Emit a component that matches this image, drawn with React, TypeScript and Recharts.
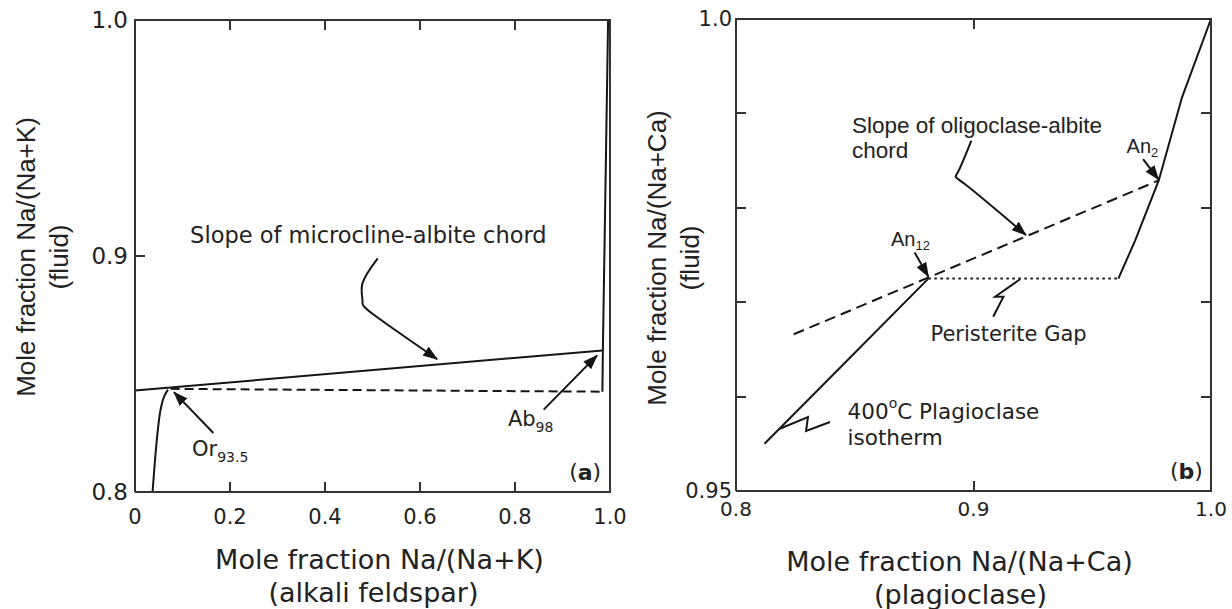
import React from 'react'
import { LineChart, Line, XAxis, YAxis, ReferenceDot, Label } from 'recharts'

// ---------- panel (a): alkali feldspar ----------
const aXDomain = [0, 1]
const aYDomain = [0.8, 1]
const aXTicks = [0, 0.2, 0.4, 0.6, 0.8, 1.0]
const aXLabels = ['0', '0.2', '0.4', '0.6', '0.8', '1.0']
const aXInner = [0.2, 0.4, 0.6, 0.8]
const aYTicks = [0.8, 0.9, 1.0]
const aYLabels = ['0.8', '0.9', '1.0']
const aYInner = [0.9]

const aXTitle = ['Mole fraction Na/(Na+K)', '(alkali feldspar)']
const aYTitle = ['Mole fraction Na/(Na+K)', '(fluid)']

const orthoclaseBranch = [
  { x: 0.037, y: 0.8 },
  { x: 0.0446, y: 0.8192 },
  { x: 0.053, y: 0.834 },
  { x: 0.0695, y: 0.8434 },
]
const albiteBranch = [
  { x: 0.984, y: 0.8425 },
  { x: 0.985, y: 0.86 },
  { x: 0.996, y: 1.0 },
]
const microclineChord = [
  { x: 0, y: 0.843 },
  { x: 0.984, y: 0.86 },
]
const alkaliTie = [
  { x: 0.075, y: 0.8437 },
  { x: 0.984, y: 0.8425 },
]

const aChordArrow = [
  { x: 0.511, y: 0.899 },
  { x: 0.479, y: 0.8885 },
  { x: 0.479, y: 0.881 },
  { x: 0.5, y: 0.8755 },
  { x: 0.636, y: 0.8563 },
]
const orArrow = [
  { x: 0.165, y: 0.825 },
  { x: 0.082, y: 0.8423 },
]
const abArrow = [
  { x: 0.8604, y: 0.8349 },
  { x: 0.9728, y: 0.8579 },
]

// note anchors [x, y]
const aChordNote = [0.116, 0.909]
const orNote = [0.12, 0.8184]
const abNote = [0.785, 0.8308]
const aPanelNote = [0.914, 0.8086]

// ---------- panel (b): plagioclase ----------
const bXDomain = [0.8, 1]
const bYDomain = [0.95, 1]
const bXTicks = [0.8, 0.9, 1.0]
const bXLabels = ['0.8', '0.9', '1.0']
const bXInner = [0.9]
const bYTicks = [0.95, 0.96, 0.97, 0.98, 0.99, 1.0]
const bYLabels = ['0.95', '', '', '', '', '1.0']
const bYInner = [0.96, 0.97, 0.98, 0.99]

const bXTitle = ['Mole fraction Na/(Na+Ca)', '(plagioclase)']
const bYTitle = ['Mole fraction Na/(Na+Ca)', '(fluid)']

const isothermLow = [
  { x: 0.812, y: 0.955 },
  { x: 0.8465, y: 0.96375 },
  { x: 0.881, y: 0.9725 },
]
const peristeriteGap = [
  { x: 0.881, y: 0.9725 },
  { x: 0.961, y: 0.9725 },
]
const isothermHigh = [
  { x: 0.961, y: 0.9725 },
  { x: 0.968, y: 0.9765 },
  { x: 0.978, y: 0.9829 },
  { x: 0.9878, y: 0.9917 },
  { x: 1.0, y: 1.0 },
]
const oligoclaseChord = [
  { x: 0.8243, y: 0.9666 },
  { x: 0.978, y: 0.9829 },
]

const bChordArrow = [
  { x: 0.8991, y: 0.98712 },
  { x: 0.8933, y: 0.98371 },
  { x: 0.8966, y: 0.98247 },
  { x: 0.9221, y: 0.97712 },
]
const an2Arrow = [
  { x: 0.9714, y: 0.98515 },
  { x: 0.9779, y: 0.983 },
]
const an12Arrow = [
  { x: 0.8752, y: 0.97527 },
  { x: 0.881, y: 0.97272 },
]
const gapZigzag = [
  { x: 0.9083, y: 0.96846 },
  { x: 0.9126, y: 0.97058 },
  { x: 0.9091, y: 0.97058 },
  { x: 0.9196, y: 0.97243 },
]
const isoZigzag = [
  { x: 0.8182, y: 0.95657 },
  { x: 0.8303, y: 0.95784 },
  { x: 0.8295, y: 0.95636 },
  { x: 0.8396, y: 0.95731 },
]

const bChordNote = [0.8488, 0.98867]
const bChordNote2 = [0.8488, 0.98602]
const an2Note = [0.96446, 0.98659]
const an12Note = [0.86526, 0.97669]
const gapNote = [0.88189, 0.96663]
const isoNote = [0.84699, 0.95847]
const isoNote2 = [0.84699, 0.95572]
const bPanelNote = [0.98274, 0.95212]

const FRAME = '#333'
const INK = '#151515'
const VERD = 'DejaVu Sans, Verdana, sans-serif'
const ARIAL = 'Liberation Sans, Arial, sans-serif'
const TICK = 10
const PLOT_W = 475
const PLOT_H = 472

const tickText = (labels: string[], dy: number, fs: number) => (p: any) => (
  <text x={p.x} y={p.y + dy} textAnchor="middle" dominantBaseline="central" fontSize={fs} fontFamily={VERD} fill="#222">
    {labels[p.index]}
  </text>
)

const leftText = (labels: string[], dx: number, fs: number) => (p: any) => (
  <text x={p.x - dx} y={p.y} textAnchor="end" dominantBaseline="central" fontSize={fs} fontFamily={VERD} fill="#222">
    {labels[p.index]}
  </text>
)

const xTitle = (lines: string[], shift: number[], dy: number[]) => (p: any) => {
  const vb = p.viewBox
  const cx = vb.x + vb.width / 2
  return (
    <g>
      {lines.map((t, i) => (
        <text key={i} x={cx + shift[i]} y={vb.y + dy[i]} textAnchor="middle" dominantBaseline="central" fontSize={27} fontFamily={VERD} fill="#222">
          {t}
        </text>
      ))}
    </g>
  )
}

const yTitle = (lines: string[], xs: number[], cy: number) => (p: any) => (
  <g>
    {lines.map((t, i) => (
      <text key={i} x={xs[i]} y={cy} transform={`rotate(-90, ${xs[i]}, ${cy})`} textAnchor="middle" dominantBaseline="central" fontSize={26} fontFamily={ARIAL} fill="#222">
        {t}
      </text>
    ))}
  </g>
)

const tickAX = tickText(aXLabels, 24.5, 21)
const tickAY = leftText(aYLabels, 7, 23)
const tickBX = tickText(bXLabels, 18, 20)
const tickBY = leftText(bYLabels, 4, 21)
const titleAX = xTitle(aXTitle, [7, 1], [67, 100])
const titleAY = yTitle(aYTitle, [26, 59], 257)
const titleBX = xTitle(bXTitle, [-14, -13], [70, 103])
const titleBY = yTitle(bYTitle, [41, 74], 258)

const note = (pos: number[], key: string, body: React.ReactNode, fs: number, family: string) => (
  <ReferenceDot
    key={key}
    x={pos[0]}
    y={pos[1]}
    r={0}
    ifOverflow="visible"
    shape={(p: any) => (
      <text x={p.cx} y={p.cy} dominantBaseline="central" fontSize={fs} fontFamily={family} fill="#222">
        {body}
      </text>
    )}
  />
)

const arrowDefs = (id: string) => (
  <defs>
    <marker id={id} markerUnits="userSpaceOnUse" markerWidth={15} markerHeight={11} refX={14} refY={5.5} orient="auto">
      <path d="M0,0 L15,5.5 L0,11 z" fill={INK} />
    </marker>
  </defs>
)

const curve = (data: any[], key: string, opts: any = {}) => (
  <Line
    key={key}
    data={data}
    dataKey="y"
    type={opts.type || 'linear'}
    stroke={INK}
    strokeWidth={2}
    strokeDasharray={opts.dash}
    markerEnd={opts.arrow ? `url(#${opts.arrow})` : undefined}
    dot={false}
    activeDot={false}
    legendType="none"
    isAnimationActive={false}
  />
)

// closing box edges and inward tick marks, laid over the plot rectangle
function Box({ left, top, xd, yd, xIn, yIn, rightTicks }: any) {
  const fx = (v: number) => ((v - xd[0]) / (xd[1] - xd[0])) * PLOT_W
  const fy = (v: number) => (1 - (v - yd[0]) / (yd[1] - yd[0])) * PLOT_H
  const bar = (k: string, l: number, t: number, w: number, h: number) => (
    <div key={k} style={{ position: 'absolute', left: l, top: t, width: w, height: h, background: FRAME }} />
  )
  return (
    <div style={{ position: 'absolute', left, top, width: PLOT_W, height: PLOT_H, pointerEvents: 'none' }}>
      {bar('top', -1, -1, PLOT_W + 2, 2)}
      {bar('right', PLOT_W - 1, -1, 2, PLOT_H + 2)}
      {xIn.map((v: number) => bar(`t${v}`, fx(v) - 1, 0, 2, TICK))}
      {xIn.map((v: number) => bar(`b${v}`, fx(v) - 1, PLOT_H - TICK, 2, TICK))}
      {yIn.map((v: number) => bar(`l${v}`, 0, fy(v) - 1, TICK, 2))}
      {rightTicks && yIn.map((v: number) => bar(`r${v}`, PLOT_W - TICK, fy(v) - 1, TICK, 2))}
    </div>
  )
}

function PanelA() {
  return (
    <LineChart width={650} height={609} margin={{ top: 20, right: 40, bottom: 0, left: 0 }}>
      {arrowDefs('headA')}
      <XAxis
        dataKey="x"
        type="number"
        domain={aXDomain}
        ticks={aXTicks}
        interval={0}
        height={117}
        tickSize={0}
        tickMargin={0}
        tickLine={false}
        axisLine={{ stroke: FRAME, strokeWidth: 2 }}
        tick={tickAX}
      >
        <Label content={titleAX} />
      </XAxis>
      <YAxis
        type="number"
        domain={aYDomain}
        ticks={aYTicks}
        interval={0}
        width={135}
        tickSize={0}
        tickMargin={0}
        tickLine={false}
        axisLine={{ stroke: FRAME, strokeWidth: 2 }}
        tick={tickAY}
      >
        <Label content={titleAY} />
      </YAxis>
      {curve(orthoclaseBranch, 'or', { type: 'monotone' })}
      {curve(albiteBranch, 'ab')}
      {curve(microclineChord, 'chord')}
      {curve(alkaliTie, 'tie', { dash: '9 5' })}
      {curve(aChordArrow, 'arr1', { type: 'natural', arrow: 'headA' })}
      {curve(orArrow, 'arr2', { arrow: 'headA' })}
      {curve(abArrow, 'arr3', { arrow: 'headA' })}
      {note(aChordNote, 'n1', 'Slope of microcline-albite chord', 22.5, VERD)}
      {note(orNote, 'n2', <>Or<tspan fontSize={14} dy={8}>93.5</tspan></>, 21, VERD)}
      {note(abNote, 'n3', <>Ab<tspan fontSize={14} dy={8}>98</tspan></>, 21, VERD)}
      {note(aPanelNote, 'n4', <>(<tspan fontWeight="bold">a</tspan>)</>, 22, VERD)}
    </LineChart>
  )
}

function PanelB() {
  return (
    <LineChart width={616} height={609} margin={{ top: 19, right: 21, bottom: 0, left: 0 }}>
      {arrowDefs('headB')}
      <XAxis
        dataKey="x"
        type="number"
        domain={bXDomain}
        ticks={bXTicks}
        interval={0}
        height={118}
        tickSize={0}
        tickMargin={0}
        tickLine={false}
        axisLine={{ stroke: FRAME, strokeWidth: 2 }}
        tick={tickBX}
      >
        <Label content={titleBX} />
      </XAxis>
      <YAxis
        type="number"
        domain={bYDomain}
        ticks={bYTicks}
        interval={0}
        width={120}
        tickSize={0}
        tickMargin={0}
        tickLine={false}
        axisLine={{ stroke: FRAME, strokeWidth: 2 }}
        tick={tickBY}
      >
        <Label content={titleBY} />
      </YAxis>
      {curve(isothermLow, 'low')}
      {curve(peristeriteGap, 'gap', { dash: '2.5 3.5' })}
      {curve(isothermHigh, 'high')}
      {curve(oligoclaseChord, 'chord', { dash: '11 6' })}
      {curve(bChordArrow, 'arr1', { type: 'natural', arrow: 'headB' })}
      {curve(an2Arrow, 'arr2', { arrow: 'headB' })}
      {curve(an12Arrow, 'arr3', { arrow: 'headB' })}
      {curve(gapZigzag, 'zig1')}
      {curve(isoZigzag, 'zig2')}
      {note(bChordNote, 'n1', 'Slope of oligoclase-albite', 22.5, ARIAL)}
      {note(bChordNote2, 'n2', 'chord', 22.5, ARIAL)}
      {note(an2Note, 'n3', <>An<tspan fontSize={13} dy={6}>2</tspan></>, 20, ARIAL)}
      {note(an12Note, 'n4', <>An<tspan fontSize={13} dy={6}>12</tspan></>, 20, ARIAL)}
      {note(gapNote, 'n5', 'Peristerite Gap', 21, VERD)}
      {note(isoNote, 'n6', <>400<tspan fontSize={14} dy={-8}>o</tspan><tspan dy={8}>C Plagioclase</tspan></>, 21.5, VERD)}
      {note(isoNote2, 'n7', 'isotherm', 21.5, VERD)}
      {note(bPanelNote, 'n8', <>(<tspan fontWeight="bold">b</tspan>)</>, 22, VERD)}
    </LineChart>
  )
}

export default function App() {
  return (
    <div style={{ position: 'absolute', left: 0, top: 0, width: 1232, height: 609, background: '#fff' }}>
      <div style={{ position: 'absolute', left: 0, top: 0, width: 650, height: 609 }}>
        <PanelA />
      </div>
      <div style={{ position: 'absolute', left: 616, top: 0, width: 616, height: 609 }}>
        <PanelB />
      </div>
      <Box left={135} top={20} xd={aXDomain} yd={aYDomain} xIn={aXInner} yIn={aYInner} rightTicks={false} />
      <Box left={736} top={19} xd={bXDomain} yd={bYDomain} xIn={bXInner} yIn={bYInner} rightTicks />
    </div>
  )
}
